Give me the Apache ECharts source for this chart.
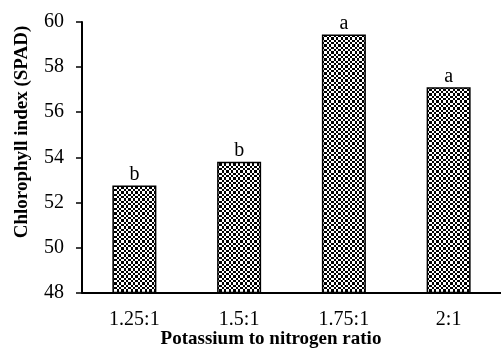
<!DOCTYPE html>
<html>
<head>
<meta charset="utf-8">
<script src="https://cdn.jsdelivr.net/npm/echarts@6/dist/echarts.min.js"></script>
<style>html,body{margin:0;padding:0;background:#fff}#c{width:501px;height:349px}</style>
</head>
<body>
<div id="c"></div>
<script>
var categories = ['1.25:1', '1.5:1', '1.75:1', '2:1'];
var values = [52.75, 53.8, 59.45, 57.1];
var letters = ['b', 'b', 'a', 'a'];
var yTicks = [48, 50, 52, 54, 56, 58, 60];
var yTitle = 'Chlorophyll index (SPAD)';
var xTitle = 'Potassium to nitrogen ratio';

// checkerboard pattern
var pc = document.createElement('canvas');
pc.width = 14; pc.height = 14;
var g = pc.getContext('2d');
g.fillStyle = '#ffffff'; g.fillRect(0, 0, 14, 14);
var b = [0, 2, 5, 7, 9, 12, 14];
for (var i = 0; i < 6; i++) {
  for (var j = 0; j < 6; j++) {
    if ((i + j) % 2 === 0) {
      g.fillStyle = '#000000';
      g.fillRect(b[i], b[j], b[i+1]-b[i], b[j+1]-b[j]);
    }
  }
}

var font = 'Liberation Serif';
var chart = echarts.init(document.getElementById('c'), null, {renderer: 'canvas'});
chart.setOption({
  animation: false,
  backgroundColor: '#ffffff',
  grid: {left: 82, top: 22, width: 428, bottom: 56.5, containLabel: false},
  xAxis: {
    type: 'category',
    data: categories,
    axisLine: {lineStyle: {color: '#000', width: 2}},
    axisTick: {show: false},
    axisLabel: {color: '#000', fontFamily: font, fontSize: 20, margin: 17}
  },
  yAxis: {
    type: 'value',
    min: yTicks[0], max: yTicks[yTicks.length-1], interval: 2,
    axisLine: {show: true, lineStyle: {color: '#000', width: 2}},
    axisTick: {show: true, length: 6, lineStyle: {color: '#000', width: 1.5}},
    axisLabel: {color: '#000', fontFamily: font, fontSize: 20, margin: 18},
    splitLine: {show: false}
  },
  series: [{
    type: 'bar',
    data: values,
    barWidth: 44,
    itemStyle: {color: {image: pc, repeat: 'repeat'}, borderColor: '#000', borderWidth: 1.5},
    label: {
      show: true, position: 'top', distance: 1,
      color: '#000', fontFamily: font, fontSize: 20,
      formatter: function (p) { return letters[p.dataIndex]; }
    }
  }],
  graphic: [
    {type: 'text', x: 22, y: 132, rotation: Math.PI/2,
     style: {text: yTitle, fontFamily: font, fontWeight: 'bold', fontSize: 19, fill: '#000', textAlign: 'center', textVerticalAlign: 'middle'}},
    {type: 'text', x: 271, y: 339,
     style: {text: xTitle, fontFamily: font, fontWeight: 'bold', fontSize: 19, fill: '#000', textAlign: 'center', textVerticalAlign: 'middle'}}
  ]
});
</script>
</body>
</html>
